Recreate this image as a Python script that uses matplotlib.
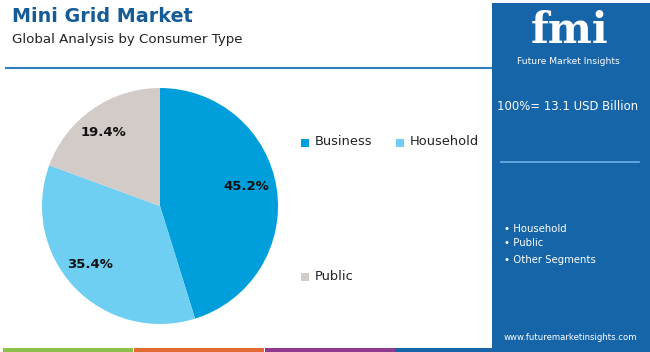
import matplotlib
matplotlib.use("Agg")
import matplotlib.pyplot as plt
from matplotlib.patches import Rectangle

categories = ["Business", "Household", "Public"]
values = [45.2, 35.4, 19.4]
colors = ["#009fdb", "#6ecff2", "#d3cbc8"]
title = "Mini Grid Market"
subtitle = "Global Analysis by Consumer Type"
total_text = "100%= 13.1 USD Billion"
bullets = ["Household", "Public", "Other Segments"]

W, H = 650, 352
fig = plt.figure(figsize=(W / 100, H / 100), dpi=100)
fig.patch.set_facecolor("white")

def fx(x):
    return x / W

def fy(y):
    return 1 - y / H

# background overlay axes for decorations
bg = fig.add_axes([0, 0, 1, 1])
bg.set_xlim(0, W)
bg.set_ylim(H, 0)
bg.axis("off")

# header line
bg.plot([5, 492], [68, 68], color="#2f7fc1", lw=1.5, solid_capstyle="butt")
# bottom stripes
bg.add_patch(Rectangle((3, 348), 130, 4, color="#8dc04b", lw=0))
bg.add_patch(Rectangle((134, 348), 130, 4, color="#e46a34", lw=0))
bg.add_patch(Rectangle((265, 348), 130, 4, color="#8e3a8f", lw=0))
bg.add_patch(Rectangle((395, 348), 100, 4, color="#1565a8", lw=0))
# right panel
bg.add_patch(Rectangle((492, 3), 158, 349, color="#1565a8", lw=0))

fig.text(fx(12), fy(17), title, fontsize=13.8, fontweight="bold", color="#155c97",
         va="center", ha="left")
fig.text(fx(12), fy(40), subtitle, fontsize=9.6, color="#222222", va="center", ha="left")

# panel texts
fig.text(fx(570), fy(31), "fmi", fontsize=30, fontweight="bold", color="white",
         family="DejaVu Serif", va="center", ha="center")
fig.text(fx(568), fy(61), "Future Market Insights", fontsize=6.6, color="white",
         va="center", ha="center")
fig.text(fx(568), fy(107), total_text, fontsize=8.4, color="white", va="center", ha="center")
bg.plot([501, 639], [162, 162], color="#6fb0e6", lw=1.2)
for b, yy in zip(bullets, [229, 243, 260]):
    fig.text(fx(504), fy(yy), "\u2022 " + b, fontsize=7.3, color="white", va="center", ha="left")
fig.text(fx(570), fy(337), "www.futuremarketinsights.com", fontsize=6.1, color="white",
         va="center", ha="center")

# pie
cx, cy, r = 160, 206, 118
ax = fig.add_axes([fx(cx - r), fy(cy + r), 2 * r / W, 2 * r / H])
wedges, _ = ax.pie(values, colors=colors, startangle=90, counterclock=False,
                   wedgeprops=dict(linewidth=0))
ax.set_xlim(-1, 1)
ax.set_ylim(-1, 1)
ax.set_aspect("auto")
label_pos = [(246, 187), (90, 264), (103, 132)]
for v, (lx, ly) in zip(values, label_pos):
    fig.text(fx(lx), fy(ly), f"{v}%", fontsize=9.5, fontweight="bold", color="#111111",
             ha="center", va="center")

# legend
leg_items = [(305, 143), (400, 143), (305, 277)]
for c, lab, (lx, ly) in zip(colors, categories, leg_items):
    bg.add_patch(Rectangle((lx - 4, ly - 4), 8, 8, color=c, lw=0))
    fig.text(fx(lx + 10), fy(ly - 1), lab, fontsize=9.4, color="#222222", va="center", ha="left")

fig.savefig("out.png", dpi=100, facecolor="white")
